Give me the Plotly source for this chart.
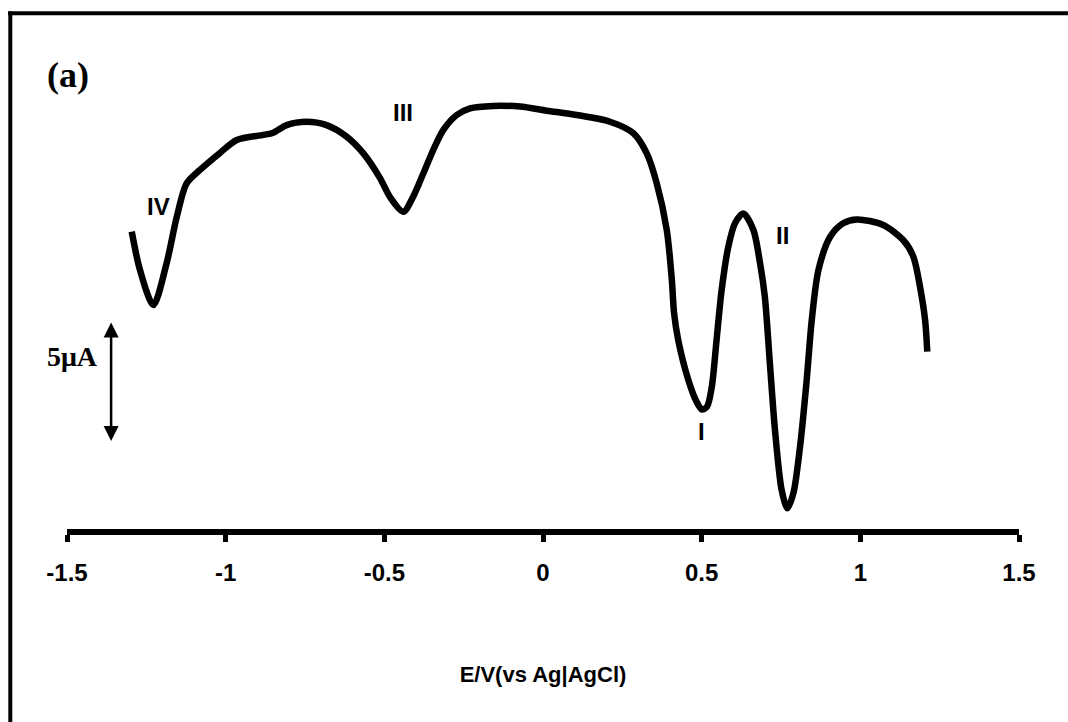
import plotly.graph_objects as go

# Potential (V vs Ag|AgCl) and current (µA, arbitrary offset)
potential = [-1.296, -1.270, -1.228, -1.186, -1.154, -1.123, -1.081, -1.018, -0.965, -0.881,
             -0.850, -0.808, -0.745, -0.682, -0.619, -0.566, -0.514, -0.482, -0.440, -0.409,
             -0.377, -0.346, -0.314, -0.272, -0.230, -0.157, -0.072, 0.012, 0.106, 0.211,
             0.285, 0.327, 0.358, 0.390, 0.406, 0.413, 0.426, 0.458, 0.484, 0.501,
             0.517, 0.532, 0.547, 0.563, 0.584, 0.605, 0.631, 0.663, 0.684, 0.699,
             0.715, 0.731, 0.752, 0.770, 0.789, 0.810, 0.831, 0.847, 0.868, 0.905,
             0.946, 0.989, 1.072, 1.135, 1.167, 1.188, 1.204, 1.211]
current = [12.39, 10.79, 9.33, 11.08, 13.01, 14.40, 14.96, 15.67, 16.21, 16.42,
           16.51, 16.83, 16.97, 16.83, 16.35, 15.65, 14.63, 13.83, 13.22, 13.85,
           14.82, 15.79, 16.63, 17.25, 17.53, 17.63, 17.60, 17.43, 17.25, 16.97,
           16.49, 15.65, 14.42, 12.46, 10.38, 9.00, 7.88, 6.21, 5.30, 4.98,
           5.10, 5.93, 7.88, 9.96, 11.76, 12.74, 13.15, 12.46, 11.07, 9.68,
           6.90, 4.13, 1.63, 0.86, 1.49, 3.43, 6.21, 8.71, 10.79, 12.18,
           12.74, 12.90, 12.67, 12.04, 11.35, 10.10, 8.71, 7.39]

tick_values = [-1.5, -1, -0.5, 0, 0.5, 1, 1.5]
tick_labels = ["-1.5", "-1", "-0.5", "0", "0.5", "1", "1.5"]

peak_names = ["IV", "III", "II", "I"]
peak_label_x = [-1.213, -0.441, 0.756, 0.500]
peak_label_y = [13.42, 17.35, 12.21, 4.08]

scale_bar_x = -1.361
scale_bar_bottom = 3.6
scale_bar_top = 8.6
scale_label = "5μA"

W, H = 1068, 722
L, R = 67, 1019
PB = 529  # plot bottom (pixel)
PX_PER_UA = 24.0
Y_TOP = PB / PX_PER_UA


def px_to_paper_x(px):
    return (px - L) / (R - L)


def px_to_paper_y(py):
    return (PB - py) / PB


fig = go.Figure()
fig.add_trace(go.Scatter(
    x=potential, y=current, mode="lines",
    line=dict(color="black", width=6.5, shape="spline", smoothing=0.8),
    hoverinfo="skip", showlegend=False,
))

label_font = dict(family="Liberation Sans, Arial", size=24, color="black", weight="bold")
for name, lx, ly in zip(peak_names, peak_label_x, peak_label_y):
    fig.add_annotation(x=lx, y=ly, text=name, showarrow=False, font=label_font,
                       xanchor="center", yanchor="middle")

serif_font = dict(family="Liberation Serif, Times New Roman", color="black", weight="bold")
fig.add_annotation(x=-1.496, y=18.92, text="(a)", showarrow=False,
                   font=dict(serif_font, size=36), xanchor="center", yanchor="middle")
fig.add_annotation(x=-1.484, y=7.17, text=scale_label, showarrow=False,
                   font=dict(serif_font, size=28), xanchor="center", yanchor="middle")

# scale bar (double-headed arrow)
fig.add_annotation(x=scale_bar_x, y=scale_bar_top, ax=scale_bar_x, ay=scale_bar_bottom,
                   xref="x", yref="y", axref="x", ayref="y", text="",
                   showarrow=True, arrowside="end+start", arrowhead=2,
                   arrowsize=1.2, arrowwidth=2.5, arrowcolor="black", standoff=0, startstandoff=0)

# frame lines (top and left)
fig.add_shape(type="line", xref="paper", yref="paper",
              x0=px_to_paper_x(8), x1=px_to_paper_x(W + 5),
              y0=px_to_paper_y(13.3), y1=px_to_paper_y(13.3),
              line=dict(color="black", width=4))
fig.add_shape(type="line", xref="paper", yref="paper",
              x0=px_to_paper_x(10.3), x1=px_to_paper_x(10.3),
              y0=px_to_paper_y(11.5), y1=px_to_paper_y(H + 5),
              line=dict(color="black", width=4))

fig.update_layout(
    width=W, height=H,
    margin=dict(l=L, r=W - R, t=0, b=H - PB, autoexpand=False),
    paper_bgcolor="white", plot_bgcolor="white",
    xaxis=dict(
        range=[-1.5, 1.5], tickmode="array", tickvals=tick_values, ticktext=tick_labels,
        showline=True, linecolor="black", linewidth=6, ticks="outside", ticklen=7,
        tickwidth=5, tickcolor="black", showgrid=False, zeroline=False,
        ticklabelstandoff=10,
        tickfont=dict(family="Liberation Sans, Arial", size=24, color="black", weight="bold"),
        title=dict(text="E/V(vs Ag|AgCl)", standoff=84,
                   font=dict(family="Liberation Sans, Arial", size=22, color="black", weight="bold")),
        automargin=False, fixedrange=True,
    ),
    yaxis=dict(range=[0, Y_TOP], visible=False, fixedrange=True),
)

fig.write_html("out.html")
